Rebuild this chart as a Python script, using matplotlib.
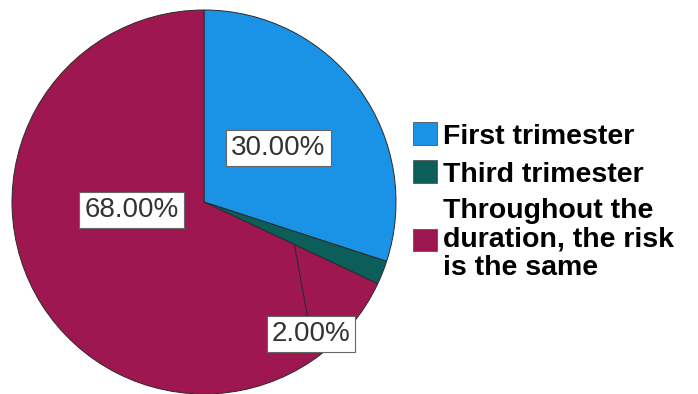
import numpy as np
import matplotlib.pyplot as plt
from matplotlib.patches import Patch

plt.rcParams['font.family'] = ['Liberation Sans', 'DejaVu Sans']

# Share of respondents by trimester of highest risk
categories = ['First trimester', 'Third trimester',
              'Throughout the\nduration, the risk\nis the same']
shares = [30.0, 2.0, 68.0]
colours = ['#1a92e6', '#0b5e59', '#9e1750']

fig = plt.figure(figsize=(6.98, 3.94), dpi=100)
ax = fig.add_axes([12 / 698, 0.0, 384 / 698, 384 / 394])

wedges, _ = ax.pie(shares, colors=colours, startangle=90, counterclock=False,
                   radius=1.0, wedgeprops=dict(edgecolor='#2b2b2b', linewidth=0.7))
ax.set_xlim(-1, 1)
ax.set_ylim(-1, 1)
ax.set_aspect('equal')

box = dict(boxstyle='square,pad=0.18', facecolor='white', edgecolor='#666666', linewidth=0.8)

def polar(r, deg):
    a = np.deg2rad(deg)
    return r * np.cos(a), r * np.sin(a)

# label placement: (radius, angle) for the inside labels
mid = [(w.theta1 + w.theta2) / 2 for w in wedges]
ax.text(*polar(0.48, mid[0]), f'{shares[0]:.2f}%', ha='center', va='center',
        fontsize=20, color='#333333', bbox=box)
ax.text(*polar(0.38, mid[2] - 26), f'{shares[2]:.2f}%', ha='center', va='center',
        fontsize=20, color='#333333', bbox=box)

# small slice gets a leader line
edge = wedges[1].theta1
ax.annotate(f'{shares[1]:.2f}%', xy=polar(0.52, edge), xytext=(0.557, -0.69),
            ha='center', va='center', fontsize=20, color='#333333', bbox=box,
            arrowprops=dict(arrowstyle='-', color='#2b2b2b', linewidth=0.8,
                            shrinkA=0, shrinkB=0))

handles = [Patch(facecolor=c, edgecolor='#555555', linewidth=0.6) for c in colours]
leg = fig.legend(handles, categories, loc='center left', bbox_to_anchor=(413 / 698, 0.488),
                 frameon=False, prop=dict(weight='bold', size=20.5),
                 handlelength=0.85, handleheight=0.85, handletextpad=0.2,
                 labelspacing=0.38, borderpad=0, borderaxespad=0)
for t in leg.get_texts():
    t.set_linespacing(1.12)

fig.savefig('out.png', dpi=100)
